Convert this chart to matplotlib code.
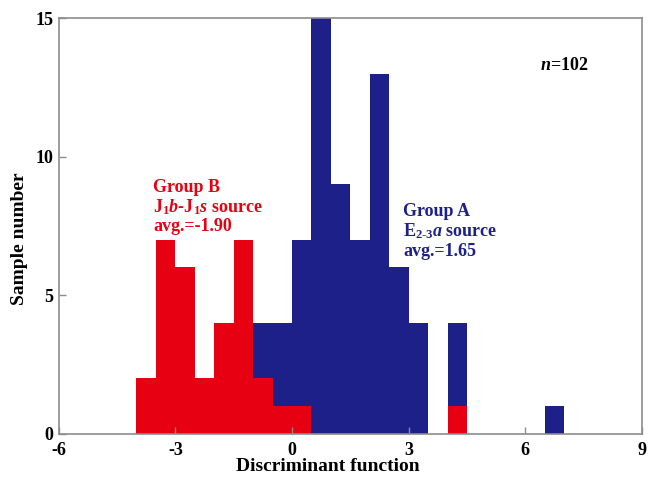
import numpy as np
import matplotlib.pyplot as plt

plt.rcParams['font.family'] = 'Liberation Serif'
plt.rcParams['font.weight'] = 'bold'
plt.rcParams['axes.unicode_minus'] = False
plt.rcParams['mathtext.fontset'] = 'custom'
plt.rcParams['mathtext.rm'] = 'Liberation Serif:bold'
plt.rcParams['mathtext.it'] = 'Liberation Serif:bold:italic'
plt.rcParams['mathtext.bf'] = 'Liberation Serif:bold'
plt.rcParams['mathtext.default'] = 'rm'

# left edges of the histogram bins (width 0.5)
bin_left = [-4.0, -3.5, -3.0, -2.5, -2.0, -1.5, -1.0, -0.5, 0.0, 0.5, 1.0,
            1.5, 2.0, 2.5, 3.0, 3.5, 4.0, 4.5, 5.0, 5.5, 6.0, 6.5]
group_b = [2, 7, 6, 2, 4, 7, 2, 1, 1, 0, 0, 0, 0, 0, 0, 0, 1, 0, 0, 0, 0, 0]
group_a = [0, 0, 0, 0, 0, 0, 2, 3, 6, 15, 9, 7, 13, 6, 4, 0, 3, 0, 0, 0, 0, 1]
bin_width = 0.5

x_ticks = [-6, -3, 0, 3, 6, 9]
y_ticks = [0, 5, 10, 15]

rouge = '#E60012'
bleu = '#1D2088'
gris = '#8c8c8c'

fig = plt.figure(figsize=(6.48, 4.78), dpi=100)
ax = fig.add_axes([58.7 / 648, 1 - 433.5 / 478, (642 - 58.7) / 648, (433.5 - 18.3) / 478])

ax.bar(bin_left, group_b, width=bin_width, align='edge', color=rouge, linewidth=0)
ax.bar(bin_left, group_a, width=bin_width, align='edge', bottom=np.array(group_b),
       color=bleu, linewidth=0)

ax.set_xlim(-6, 9)
ax.set_ylim(0, 15)
ax.set_xticks(x_ticks)
ax.set_yticks(y_ticks)
ax.tick_params(direction='in', length=5, width=1, color=gris, labelsize=13)
ax.tick_params(axis='x', pad=6)
ax.tick_params(axis='y', pad=4)
for s in ax.spines.values():
    s.set_color(gris)
    s.set_linewidth(1.2)

ax.set_xlabel('Discriminant function', fontsize=14, fontweight='bold')
ax.xaxis.set_label_coords(0.461, -0.058)
ax.set_ylabel('Sample number', fontsize=14, fontweight='bold')
ax.yaxis.set_label_coords(-0.052, 0.47)

# annotations
ax.text(6.38, 13.12, r'$\mathit{n}$=102', fontsize=13, color='black')

ax.text(-3.57, 8.73, 'Group B', fontsize=13, color=rouge)
ax.text(-3.57, 8.0, r'J$_1$$\mathit{b}$-J$_1$$\mathit{s}$ source', fontsize=13, color=rouge)
ax.text(-3.57, 7.3, 'avg.=-1.90', fontsize=13, color=rouge)

ax.text(2.86, 7.85, 'Group A', fontsize=13, color=bleu)
ax.text(2.86, 7.13, r'E$_{2\text{-}3}$$\mathit{a}$ source', fontsize=13, color=bleu)
ax.text(2.86, 6.41, 'avg.=1.65', fontsize=13, color=bleu)

fig.savefig('out.png', dpi=100)
